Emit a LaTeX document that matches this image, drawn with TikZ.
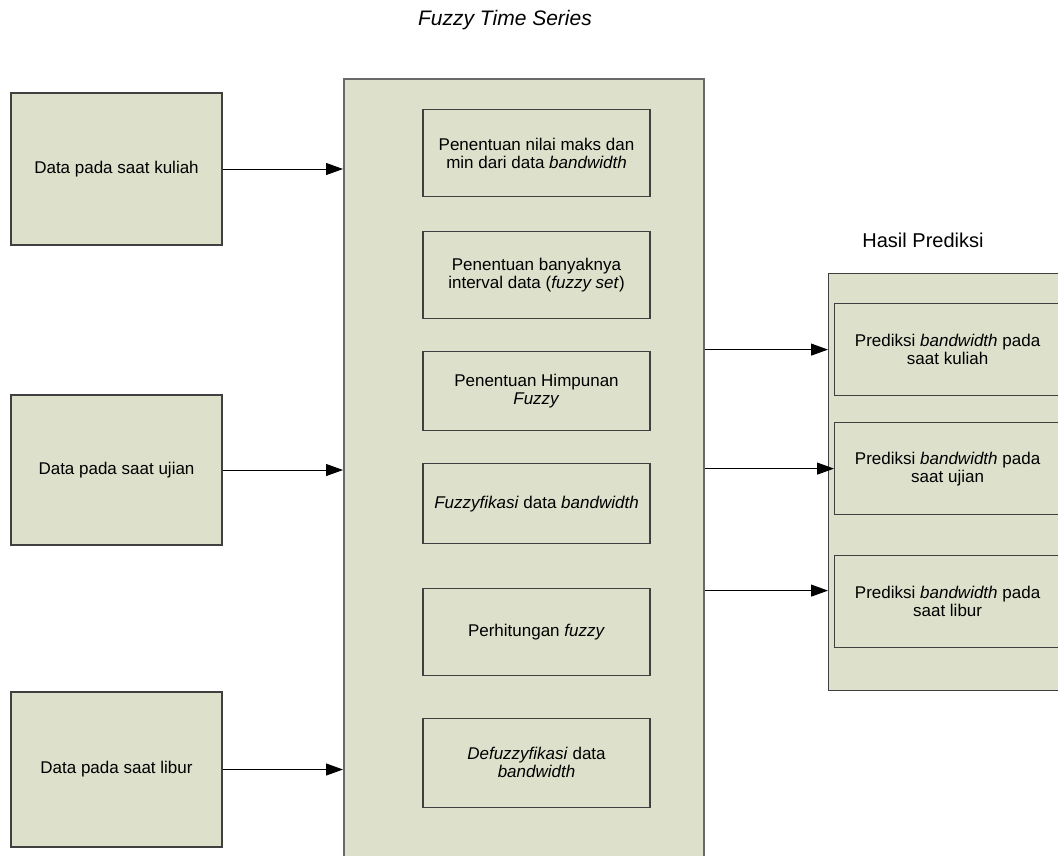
\documentclass[tikz,border=0pt]{standalone}
\usepackage{fontspec}
\setmainfont{Liberation Sans}
\usetikzlibrary{arrows.meta,positioning}
\definecolor{boxFill}{RGB}{221,224,203}
\definecolor{boxLine}{RGB}{64,64,64}
\definecolor{panelLine}{RGB}{105,105,105}
\tikzstyle{recNode} = [rectangle, draw=boxLine, fill=boxFill, line width=1.2pt, align=center, inner sep=0pt, font=\fontsize{17}{18}\selectfont]
\tikzstyle{dataNode} = [recNode, minimum width=211pt]
\tikzstyle{stepNode} = [recNode, minimum width=227pt]
\tikzstyle{predNode} = [recNode, minimum width=226pt, minimum height=92pt, anchor=north west]
\tikzstyle{panelNode} = [rectangle, draw=panelLine, fill=boxFill, line width=2pt, anchor=north west]
\tikzstyle{arrow} = [line width=1pt, -{Triangle[length=17pt,width=12pt]}, draw=black]

\begin{document}
\begin{tikzpicture}[x=1pt,y=-1pt]
    \useasboundingbox (0,0) rectangle (1058,855);

    \node (title) [anchor=base, font=\itshape\fontsize{21}{24}\selectfont] at (505,25) {Fuzzy Time Series};
    \node (hasilTitle) [anchor=base, font=\fontsize{20}{23}\selectfont] at (923,247) {Hasil Prediksi};

    % data masukan
    \node (kuliah) [dataNode, minimum height=152pt] at (116.5,169) {Data pada saat kuliah};
    \node (ujian) [dataNode, minimum height=150pt] at (116.5,470) {Data pada saat ujian};
    \node (libur) [dataNode, minimum height=155pt] at (116.5,769.5) {Data pada saat libur};

    % proses fuzzy time series
    \node (fts) [panelNode, minimum width=360pt, minimum height=800pt] at (343,78) {};
    \node (maks) [stepNode, minimum height=87pt, anchor=north] at (536.5,109) {Penentuan nilai maks dan\\min dari data \textit{bandwidth}};
    \node (banyak) [stepNode, minimum height=87pt, below=34pt of maks] {Penentuan banyaknya\\interval data (\textit{fuzzy set})};
    \node (himpunan) [stepNode, minimum height=79pt, below=31.5pt of banyak] {Penentuan Himpunan\\\textit{Fuzzy}};
    \node (fuzzyfikasi) [stepNode, minimum height=80pt, below=32pt of himpunan] {\textit{Fuzzyfikasi} data \textit{bandwidth}};
    \node (hitung) [stepNode, minimum height=87pt, below=43.5pt of fuzzyfikasi] {Perhitungan \textit{fuzzy}};
    \node (defuzzy) [stepNode, minimum height=89pt, below=41.5pt of hitung] {\textit{Defuzzyfikasi} data\\\textit{bandwidth}};

    % hasil prediksi
    \node (hasil) [panelNode, draw=boxLine, line width=1.2pt, minimum width=240pt, minimum height=417pt] at (828,273) {};
    \node (predKuliah) [predNode] at (834,303) {Prediksi \textit{bandwidth} pada\\saat kuliah};
    \node (predUjian) [predNode] at (834,422) {Prediksi \textit{bandwidth} pada\\saat ujian};
    \node (predLibur) [predNode] at (834,555) {Prediksi \textit{bandwidth} pada\\saat libur};

    \draw [arrow] (kuliah) -- (kuliah -| fts.west);
    \draw [arrow] (ujian) -- (ujian -| fts.west);
    \draw [arrow] (libur) -- (libur -| fts.west);

    \draw [arrow] (predKuliah -| fts.east) -- (predKuliah -| hasil.west);
    \draw [arrow] (predUjian -| fts.east) -- (predUjian.west);
    \draw [arrow] ([yshift=11pt]predLibur.west -| fts.east) -- ([yshift=11pt]predLibur.west -| hasil.west);
\end{tikzpicture}
\end{document}
